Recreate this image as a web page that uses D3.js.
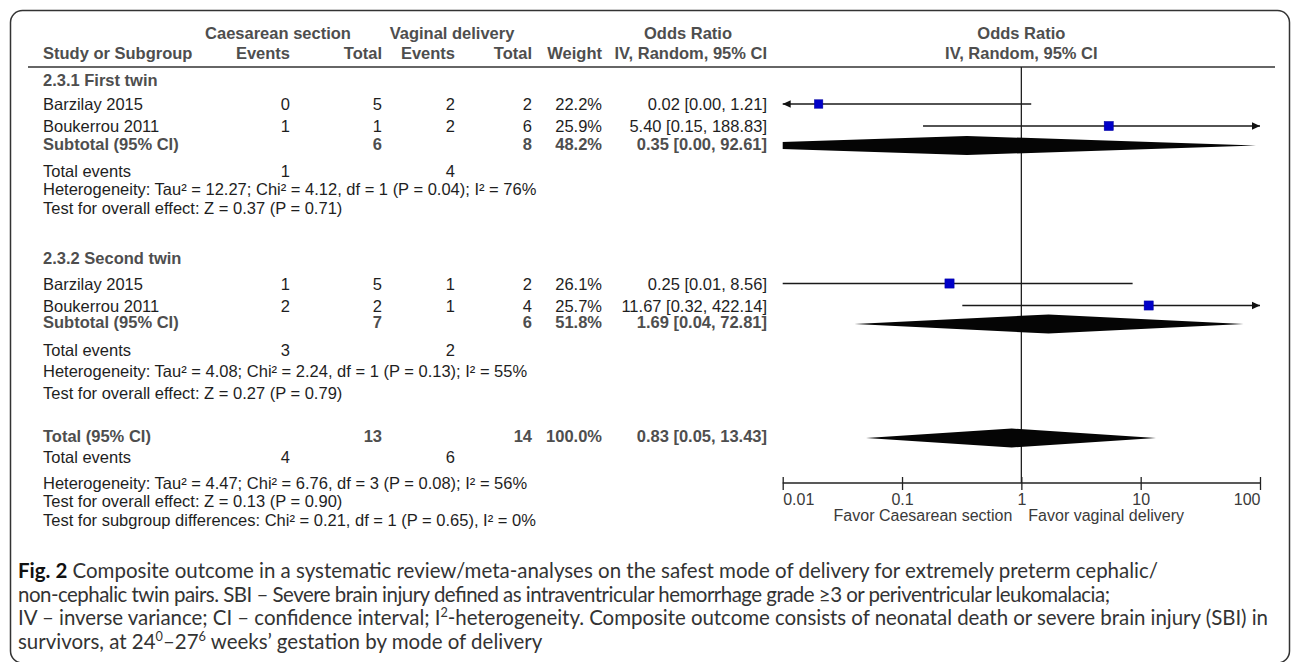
<!DOCTYPE html>
<html>
<head>
<meta charset="utf-8">
<script src="https://cdn.jsdelivr.net/npm/d3@7"></script>
<style>
  html, body { margin: 0; padding: 0; background: #fff; }
  svg { display: block; }
</style>
</head>
<body>
<svg id="fig" width="1292" height="662"></svg>
<script>
// ---------- data ----------
const groupTitles = ["2.3.1 First twin", "2.3.2 Second twin"];
const studyNames = [["Barzilay 2015", "Boukerrou 2011"], ["Barzilay 2015", "Boukerrou 2011"]];
const csEvents = [[0, 1], [1, 2]];
const csTotals = [[5, 1], [5, 2]];
const vdEvents = [[2, 2], [1, 1]];
const vdTotals = [[2, 6], [2, 4]];
const studyWeights = [[22.2, 25.9], [26.1, 25.7]];
const studyOR = [[0.02, 5.40], [0.25, 11.67]];
const studyLow = [[0.00, 0.15], [0.01, 0.32]];
const studyHigh = [[1.21, 188.83], [8.56, 422.14]];

const subCsEvents = [1, 3];
const subVdEvents = [4, 2];
const subCsTotals = [6, 7];
const subVdTotals = [8, 6];
const subWeights = [48.2, 51.8];
const subOR = [0.35, 1.69];
const subLow = [0.00, 0.04];
const subHigh = [92.61, 72.81];
const subHeterogeneity = [
  "Heterogeneity: Tau\u00b2 = 12.27; Chi\u00b2 = 4.12, df = 1 (P = 0.04); I\u00b2 = 76%",
  "Heterogeneity: Tau\u00b2 = 4.08; Chi\u00b2 = 2.24, df = 1 (P = 0.13); I\u00b2 = 55%"
];
const subOverall = [
  "Test for overall effect: Z = 0.37 (P = 0.71)",
  "Test for overall effect: Z = 0.27 (P = 0.79)"
];

const totalCsEvents = 4;
const totalVdEvents = 6;
const totalCs = 13;
const totalVd = 14;
const totalWeight = 100.0;
const totalOR = 0.83;
const totalLow = 0.05;
const totalHigh = 13.43;
const totalHeterogeneity = "Heterogeneity: Tau\u00b2 = 4.47; Chi\u00b2 = 6.76, df = 3 (P = 0.08); I\u00b2 = 56%";
const totalOverall = "Test for overall effect: Z = 0.13 (P = 0.90)";
const subgroupTest = "Test for subgroup differences: Chi\u00b2 = 0.21, df = 1 (P = 0.65), I\u00b2 = 0%";

const axisTicks = [0.01, 0.1, 1, 10, 100];
const axisTickLabels = ["0.01", "0.1", "1", "10", "100"];
const favourLabels = ["Favor Caesarean section", "Favor vaginal delivery"];

// ---------- layout ----------
const W = 1292, H = 662;
const FONT = "'Liberation Sans', Arial, Helvetica, sans-serif";
const INK = "#1e1e1e";
const BOLD_INK = "#4e4e4e";
const FS = 16.5;

const labelX = 43;
const colCsEv = 290, colCsTot = 382, colVdEv = 455, colVdTot = 532, colW = 602, colCI = 767;

const rows = {
  head1: 39, head2: 59, rule: 67,
  groups: [
    { title: 86, studies: [110, 132], sub: 149.5, ev: 176.5, het: 195, test: 213.5 },
    { title: 264, studies: [289.5, 311.5], sub: 328, ev: 356, het: 377, test: 398.5 }
  ],
  total: 442, totEv: 463, totHet: 489, totTest: 507, subTest: 526
};
const axisY = 483;

const svg = d3.select("#fig");

// rounded frame around the figure
svg.append("rect")
  .attr("x", 10.5).attr("y", 10.5)
  .attr("width", 1279).attr("height", 652.5)
  .attr("rx", 12).attr("ry", 12)
  .attr("fill", "none").attr("stroke", "#333").attr("stroke-width", 1.5);

const x = d3.scaleLog().domain([0.01, 100]).range([782.7, 1260]);
const fmt2 = d3.format(".2f");
const fmtW = d3.format(".1f");
const ciText = (o, l, h) => `${fmt2(o)} [${fmt2(l)}, ${fmt2(h)}]`;

// ---------- table text ----------
const T = svg.append("g").attr("font-family", FONT).attr("font-size", FS);
function txt(xp, y, s, opts = {}) {
  return T.append("text")
    .attr("x", xp).attr("y", y)
    .attr("text-anchor", opts.anchor || "start")
    .attr("font-weight", opts.bold ? "bold" : "normal")
    .attr("fill", opts.fill || (opts.bold ? BOLD_INK : INK))
    .text(s);
}

// column headings
txt(278, rows.head1, "Caesarean section", { anchor: "middle", bold: true });
txt(452, rows.head1, "Vaginal delivery", { anchor: "middle", bold: true });
txt(688, rows.head1, "Odds Ratio", { anchor: "middle", bold: true });
txt(x(1), rows.head1, "Odds Ratio", { anchor: "middle", bold: true });
txt(labelX, rows.head2, "Study or Subgroup", { bold: true });
txt(colCsEv, rows.head2, "Events", { anchor: "end", bold: true });
txt(colCsTot, rows.head2, "Total", { anchor: "end", bold: true });
txt(colVdEv, rows.head2, "Events", { anchor: "end", bold: true });
txt(colVdTot, rows.head2, "Total", { anchor: "end", bold: true });
txt(colW, rows.head2, "Weight", { anchor: "end", bold: true });
txt(colCI, rows.head2, "IV, Random, 95% CI", { anchor: "end", bold: true });
txt(x(1), rows.head2, "IV, Random, 95% CI", { anchor: "middle", bold: true });

svg.append("line")
  .attr("x1", 28).attr("x2", 1275)
  .attr("y1", rows.rule).attr("y2", rows.rule)
  .attr("stroke", "#333").attr("stroke-width", 1.5);

// ---------- plot ----------
const P = svg.append("g");
svg.append("defs").append("clipPath").attr("id", "plotClip")
  .append("rect")
  .attr("x", x.range()[0]).attr("y", 0)
  .attr("width", x.range()[1] - x.range()[0]).attr("height", H);

const [xMin, xMax] = x.domain();

// line of no effect
P.append("line")
  .attr("x1", x(1)).attr("x2", x(1))
  .attr("y1", rows.rule).attr("y2", axisY)
  .attr("stroke", "#222").attr("stroke-width", 1.3);

function arrowHead(tipX, y, dir) {
  const len = 8, half = 3.8;
  P.append("path")
    .attr("d", `M${tipX},${y} L${tipX - dir * len},${y - half} L${tipX - dir * len},${y + half} Z`)
    .attr("fill", "#111");
}

function studyMark(y, or, lo, hi, w) {
  const loC = Math.max(lo, xMin), hiC = Math.min(hi, xMax);
  P.append("line")
    .attr("x1", x(loC)).attr("x2", x(hiC))
    .attr("y1", y).attr("y2", y)
    .attr("stroke", "#1a1a1a").attr("stroke-width", 1.3);
  if (lo < xMin) arrowHead(x(xMin), y, -1);
  if (hi > xMax) arrowHead(x(xMax), y, 1);
  const side = 1.8 * Math.sqrt(w);
  P.append("rect")
    .attr("x", x(or) - side / 2).attr("y", y - side / 2)
    .attr("width", side).attr("height", side)
    .attr("fill", "#0000c8").attr("stroke", "#0000a0").attr("stroke-width", 0.5);
}

function diamond(y, or, lo, hi) {
  // a lower limit printed as 0.00 sits far off the scale: mirror the
  // upper limit on the log scale to place the left vertex
  const loD = lo > 0 ? lo : (or * or) / hi;
  const h = 9.5;
  const pts = [[x(loD), y], [x(or), y - h], [x(hi), y], [x(or), y + h]];
  P.append("path")
    .attr("d", "M" + pts.map(p => p.join(",")).join("L") + "Z")
    .attr("clip-path", "url(#plotClip)")
    .attr("fill", "#050505");
}

// ---------- rows ----------
groupTitles.forEach((title, g) => {
  const r = rows.groups[g];
  txt(labelX, r.title, title, { bold: true });
  studyNames[g].forEach((name, i) => {
    const y = r.studies[i];
    txt(labelX, y, name);
    txt(colCsEv, y, csEvents[g][i], { anchor: "end" });
    txt(colCsTot, y, csTotals[g][i], { anchor: "end" });
    txt(colVdEv, y, vdEvents[g][i], { anchor: "end" });
    txt(colVdTot, y, vdTotals[g][i], { anchor: "end" });
    txt(colW, y, fmtW(studyWeights[g][i]) + "%", { anchor: "end" });
    txt(colCI, y, ciText(studyOR[g][i], studyLow[g][i], studyHigh[g][i]), { anchor: "end" });
    studyMark(y - 6, studyOR[g][i], studyLow[g][i], studyHigh[g][i], studyWeights[g][i]);
  });
  txt(labelX, r.sub, "Subtotal (95% CI)", { bold: true });
  txt(colCsTot, r.sub, subCsTotals[g], { anchor: "end", bold: true });
  txt(colVdTot, r.sub, subVdTotals[g], { anchor: "end", bold: true });
  txt(colW, r.sub, fmtW(subWeights[g]) + "%", { anchor: "end", bold: true });
  txt(colCI, r.sub, ciText(subOR[g], subLow[g], subHigh[g]), { anchor: "end", bold: true });
  diamond(r.sub - 4, subOR[g], subLow[g], subHigh[g]);

  txt(labelX, r.ev, "Total events");
  txt(colCsEv, r.ev, subCsEvents[g], { anchor: "end" });
  txt(colVdEv, r.ev, subVdEvents[g], { anchor: "end" });
  txt(labelX, r.het, subHeterogeneity[g]);
  txt(labelX, r.test, subOverall[g]);
});

txt(labelX, rows.total, "Total (95% CI)", { bold: true });
txt(colCsTot, rows.total, totalCs, { anchor: "end", bold: true });
txt(colVdTot, rows.total, totalVd, { anchor: "end", bold: true });
txt(colW, rows.total, fmtW(totalWeight) + "%", { anchor: "end", bold: true });
txt(colCI, rows.total, ciText(totalOR, totalLow, totalHigh), { anchor: "end", bold: true });
diamond(rows.total - 4, totalOR, totalLow, totalHigh);

txt(labelX, rows.totEv, "Total events");
txt(colCsEv, rows.totEv, totalCsEvents, { anchor: "end" });
txt(colVdEv, rows.totEv, totalVdEvents, { anchor: "end" });
txt(labelX, rows.totHet, totalHeterogeneity);
txt(labelX, rows.totTest, totalOverall);
txt(labelX, rows.subTest, subgroupTest);

// ---------- axis ----------
const axis = d3.axisBottom(x)
  .tickValues(axisTicks)
  .tickFormat((d, i) => axisTickLabels[i])
  .tickSizeInner(13)
  .tickSizeOuter(0)
  .tickPadding(3.5);
const ax = P.append("g")
  .attr("transform", `translate(0,${axisY - 6})`)
  .call(axis);
ax.select(".domain").remove();
ax.selectAll(".tick line").attr("stroke", "#222").attr("stroke-width", 1.3);
ax.selectAll(".tick text")
  .attr("font-family", FONT).attr("font-size", 16).attr("fill", "#3a3a3a")
  .attr("text-anchor", (d, i) => i === 0 ? "start" : (i === axisTicks.length - 1 ? "end" : "middle"));
P.append("line")
  .attr("x1", x(xMin)).attr("x2", x(xMax))
  .attr("y1", axisY).attr("y2", axisY)
  .attr("stroke", "#222").attr("stroke-width", 1.3);

P.append("text")
  .attr("x", x(1) - 9).attr("y", 521)
  .attr("text-anchor", "end")
  .attr("font-family", FONT).attr("font-size", 16).attr("fill", "#3a3a3a")
  .text(favourLabels[0]);
P.append("text")
  .attr("x", x(1) + 7).attr("y", 521)
  .attr("text-anchor", "start")
  .attr("font-family", FONT).attr("font-size", 16).attr("fill", "#3a3a3a")
  .text(favourLabels[1]);

// ---------- caption ----------
const captionLines = [
  [{ t: "Fig. 2", b: true }, { t: " Composite outcome in a systematic review/meta-analyses on the safest mode of delivery for extremely preterm cephalic/" }],
  [{ t: "non-cephalic twin pairs. SBI \u2013 Severe brain injury defined as intraventricular hemorrhage grade \u22653 or periventricular leukomalacia;" }],
  [{ t: "IV \u2013 inverse variance; CI \u2013 confidence interval; I" }, { t: "2", sup: true }, { t: "-heterogeneity. Composite outcome consists of neonatal death or severe brain injury (SBI) in" }],
  [{ t: "survivors, at 24" }, { t: "0", sup: true }, { t: "\u201327" }, { t: "6", sup: true }, { t: " weeks\u2019 gestation by mode of delivery" }]
];
const captionY = [578, 601.5, 625, 648.5];
// right ends of the wrapped lines (the last one is left ragged)
const captionEnds = [1158, 1110, 1268, null];
const capX = 18;
const C = svg.append("g").attr("font-family", "Lato, 'Open Sans', sans-serif").attr("fill", "#333");

function drawCaption(size) {
  C.selectAll("*").remove();
  return captionLines.map((parts, li) => {
    const t = C.append("text").attr("x", capX).attr("y", captionY[li]).attr("font-size", size);
    let raised = false;
    parts.forEach(p => {
      const s = t.append("tspan").text(p.t);
      if (p.b) s.attr("font-weight", "bold").attr("fill", "#111");
      if (p.sup) { s.attr("font-size", size * 0.62).attr("dy", -size * 0.38); raised = true; }
      else if (raised) { s.attr("dy", size * 0.38); raised = false; }
    });
    return t;
  });
}
let capSize = 17;
let capNodes = drawCaption(capSize);
const w1 = capNodes[0].node().getComputedTextLength();
capSize = capSize * (captionEnds[0] - capX) / w1;
capNodes = drawCaption(capSize);
capNodes.forEach((t, i) => {
  if (captionEnds[i] != null) {
    t.attr("textLength", captionEnds[i] - capX).attr("lengthAdjust", "spacing");
  }
});
</script>
</body>
</html>
